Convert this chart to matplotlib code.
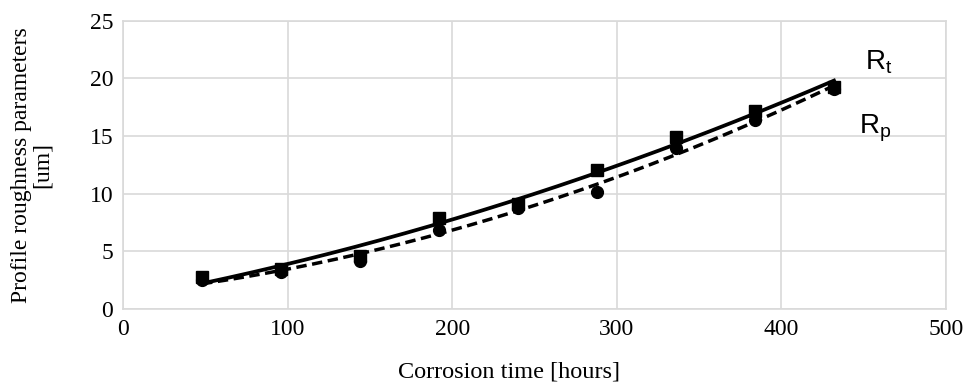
import numpy as np
import matplotlib
matplotlib.use("Agg")
import matplotlib.pyplot as plt

hours = [48, 96, 144, 192, 240, 288, 336, 384, 432]
rt_values = [2.8, 3.5, 4.6, 7.9, 9.1, 12.1, 14.9, 17.2, 19.3]
rp_values = [2.5, 3.2, 4.2, 6.9, 8.8, 10.2, 14.0, 16.4, 19.1]
x_ticks = [0, 100, 200, 300, 400, 500]
y_ticks = [0, 5, 10, 15, 20, 25]

plt.rcParams['font.family'] = ['Liberation Serif', 'DejaVu Serif']

fig = plt.figure(figsize=(9.67, 3.85), dpi=100)
ax = fig.add_axes([0.1272, 0.197, 0.851, 0.749])

xs = np.linspace(min(hours), max(hours), 200)
rt_fit = np.polyval(np.polyfit(hours, rt_values, 2), xs)
rp_fit = np.polyval(np.polyfit(hours, rp_values, 2), xs)

ax.plot(hours, rt_values, 's', color='black', markersize=8.5, zorder=3)
ax.plot(hours, rp_values, 'o', color='black', markersize=8.5, zorder=3)
ax.plot(xs, rt_fit, '-', color='black', lw=2.7, zorder=4)
ax.plot(xs, rp_fit, '--', color='black', lw=2.5, dashes=(3, 1.6), zorder=4)

ax.set_xlim(0, 500)
ax.set_ylim(0, 25)
ax.set_xticks(x_ticks)
ax.set_yticks(y_ticks)
ax.grid(True, color='#d9d9d9', lw=1.2)
ax.set_axisbelow(True)
for s in ax.spines.values():
    s.set_color('#d9d9d9')
    s.set_linewidth(1.2)
ax.tick_params(length=0, labelsize=17, pad=7)

ax.set_xlabel('Corrosion time [hours]', fontsize=17.5)
ax.xaxis.set_label_coords((509 - 123) / 823, -0.18)
ax.set_ylabel('Profile roughness parameters\n[um]', fontsize=17, linespacing=1.0)
ax.yaxis.set_label_coords(-0.085, 0.5)

ax.text(459, 21.4, r'R$_\mathregular{t}$', fontsize=20, family='Liberation Sans', ha='center', va='center')
ax.text(457, 15.7, r'R$_\mathregular{p}$', fontsize=20, family='Liberation Sans', ha='center', va='center')

fig.savefig('out.png', dpi=100)
